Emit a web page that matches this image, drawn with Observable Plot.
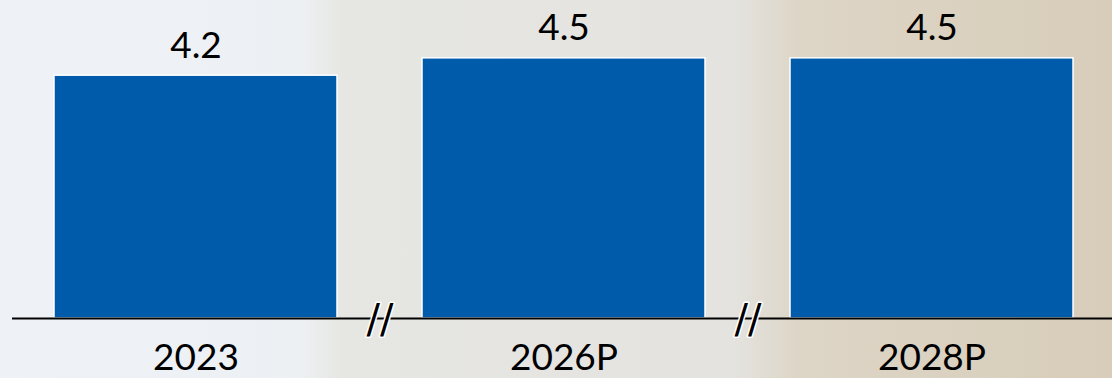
<!DOCTYPE html>
<html>
<head>
<meta charset="utf-8">
<script src="https://cdn.jsdelivr.net/npm/d3@7"></script>
<script src="https://cdn.jsdelivr.net/npm/@observablehq/plot@0.6"></script>
<style>
  html, body { margin: 0; padding: 0; }
  body {
    width: 1112px; height: 378px; overflow: hidden;
    background: linear-gradient(to right, #eef2f7 0%, #edf0f3 27%, #e6e6e2 31%, #e4e3df 66%, #ddd5c6 72%, #d8cdba 100%);
  }
  #chart svg { display: block; }
</style>
</head>
<body>
<div id="chart"></div>
<script>
const categories = ["2023", "2026P", "2028P"];
const values = [4.2, 4.5, 4.5];
const valueLabels = ["4.2", "4.5", "4.5"];
const breakAfter = ["2023", "2026P"];

const data = categories.map((c, i) => ({cat: c, value: values[i], label: valueLabels[i]}));

const font = "Lato, 'Open Sans', sans-serif";
const step = (1112 + 4 - 12) / 3;

const chart = Plot.plot({
  width: 1112,
  height: 378,
  marginTop: 0,
  marginBottom: 60,
  marginLeft: 12,
  marginRight: -4,
  style: {background: "transparent", fontFamily: font, color: "#000", overflow: "visible"},
  x: {domain: categories, paddingInner: 0.23, paddingOuter: 0.115, label: null},
  y: {domain: [0, 5.5], axis: null},
  axis: null,
  marks: [
    Plot.barY(data, {x: "cat", y: "value", fill: "#005BAA", stroke: "#ffffff", strokeWidth: 1.5}),
    Plot.ruleY([0], {stroke: "#000", strokeWidth: 2}),
    Plot.text(breakAfter, {x: d => d, y: () => 0, text: () => "//", dx: step / 2, dy: 2, fontSize: 40, fontFamily: "'DejaVu Sans', sans-serif", fill: "#000", stroke: "#fff", strokeWidth: 3, paintOrder: "stroke", lineAnchor: "middle"}),
    Plot.text(data, {x: "cat", y: "value", text: "label", dy: -18, lineAnchor: "bottom", fontSize: 37, fontFamily: font, fill: "#000"}),
    Plot.axisX({tickSize: 0, tickPadding: 25, fontSize: 37, fontFamily: font, label: null, color: "#000"})
  ]
});
document.getElementById("chart").appendChild(chart);
</script>
</body>
</html>
